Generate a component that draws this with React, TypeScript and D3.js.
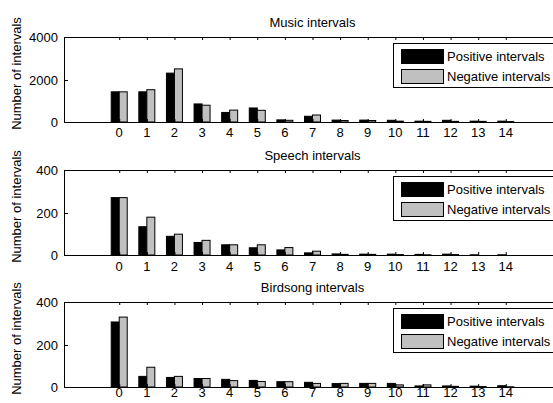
import React from "react";
import * as d3 from "d3";

const intervals = d3.range(0, 15);

const musicPositive = [1420, 1420, 2300, 850, 450, 660, 100, 270, 90, 90, 80, 40, 80, 40, 40];
const musicNegative = [1420, 1520, 2500, 790, 560, 550, 80, 330, 70, 70, 40, 30, 30, 30, 20];

const speechPositive = [270, 133, 88, 59, 48, 34, 24, 10, 5, 4, 4, 3, 4, 1, 1];
const speechNegative = [270, 178, 98, 69, 48, 48, 35, 18, 3, 3, 2, 1, 2, 0, 0];

const birdPositive = [306, 50, 45, 40, 36, 31, 25, 22, 16, 17, 17, 5, 5, 4, 6];
const birdNegative = [329, 93, 50, 40, 30, 26, 25, 17, 17, 17, 10, 10, 3, 2, 1];

const panels = [
  { title: "Music intervals", top: 37, max: 4000, ticks: [0, 2000, 4000], pos: musicPositive, neg: musicNegative, labelGap: 15 },
  { title: "Speech intervals", top: 170, max: 400, ticks: [0, 200, 400], pos: speechPositive, neg: speechNegative, labelGap: 16 },
  { title: "Birdsong intervals", top: 302, max: 400, ticks: [0, 200, 400], pos: birdPositive, neg: birdNegative, labelGap: 10 },
];

const legendLabels = ["Positive intervals", "Negative intervals"];
const colors = ["#000000", "#c0c0c0"];

const W = 553;
const H = 403;
const left = 64;
const right = 561;
const panelH = 85;
const fs = 13;
const font = "'Liberation Sans', Arial, sans-serif";

const x = d3.scaleLinear().domain([-2, 16]).range([left, right]);
const barW = 8;

function Panel({ p }: { p: (typeof panels)[number] }) {
  const bottom = p.top + panelH;
  const y = d3.scaleLinear().domain([0, p.max]).range([bottom, p.top]);
  const series = [p.pos, p.neg];
  return (
    <g>
      <text x={(left + right) / 2} y={p.top - 10} textAnchor="middle" fontSize={fs}>
        {p.title}
      </text>
      <text
        transform={`translate(21,${(p.top + bottom) / 2 - 6}) rotate(-90)`}
        textAnchor="middle"
        fontSize={fs}
      >
        Number of intervals
      </text>
      {series.map((vals, si) =>
        vals.map((v, i) => (
          <rect
            key={`${si}-${i}`}
            x={x(intervals[i]) - barW + si * barW}
            y={y(v)}
            width={barW}
            height={bottom - y(v)}
            fill={colors[si]}
            stroke="#000"
            strokeWidth={1}
          />
        ))
      )}
      <rect x={left + 0.5} y={p.top + 0.5} width={right - left} height={panelH} fill="none" stroke="#000" />
      {intervals.map((t) => (
        <g key={t}>
          <line x1={x(t) + 0.5} x2={x(t) + 0.5} y1={bottom} y2={bottom - 3} stroke="#000" />
          <line x1={x(t) + 0.5} x2={x(t) + 0.5} y1={p.top} y2={p.top + 3} stroke="#000" />
          <text x={x(t)} y={bottom + p.labelGap} textAnchor="middle" fontSize={fs}>
            {t}
          </text>
        </g>
      ))}
      {p.ticks.map((t) => (
        <g key={t}>
          <line x1={left} x2={left + 4} y1={Math.round(y(t)) + 0.5} y2={Math.round(y(t)) + 0.5} stroke="#000" />
          <text x={left - 6} y={y(t) + 5} textAnchor="end" fontSize={fs}>
            {t}
          </text>
        </g>
      ))}
      <g transform={`translate(393,${p.top + 6})`}>
        <rect x={0.5} y={0.5} width={180} height={44} fill="#fff" stroke="#000" />
        {legendLabels.map((l, i) => (
          <g key={l} transform={`translate(0,${i * 20})`}>
            <rect x={8.5} y={6.5} width={42} height={14} fill={colors[i]} stroke="#000" />
            <text x={54} y={18} fontSize={fs}>
              {l}
            </text>
          </g>
        ))}
      </g>
    </g>
  );
}

export default function App() {
  return (
    <svg
      width={W}
      height={H}
      style={{ position: "absolute", left: 0, top: 0, background: "#fff" }}
      fontFamily={font}
    >
      <rect width={W} height={H} fill="#fff" />
      {panels.map((p) => (
        <Panel key={p.title} p={p} />
      ))}
    </svg>
  );
}
